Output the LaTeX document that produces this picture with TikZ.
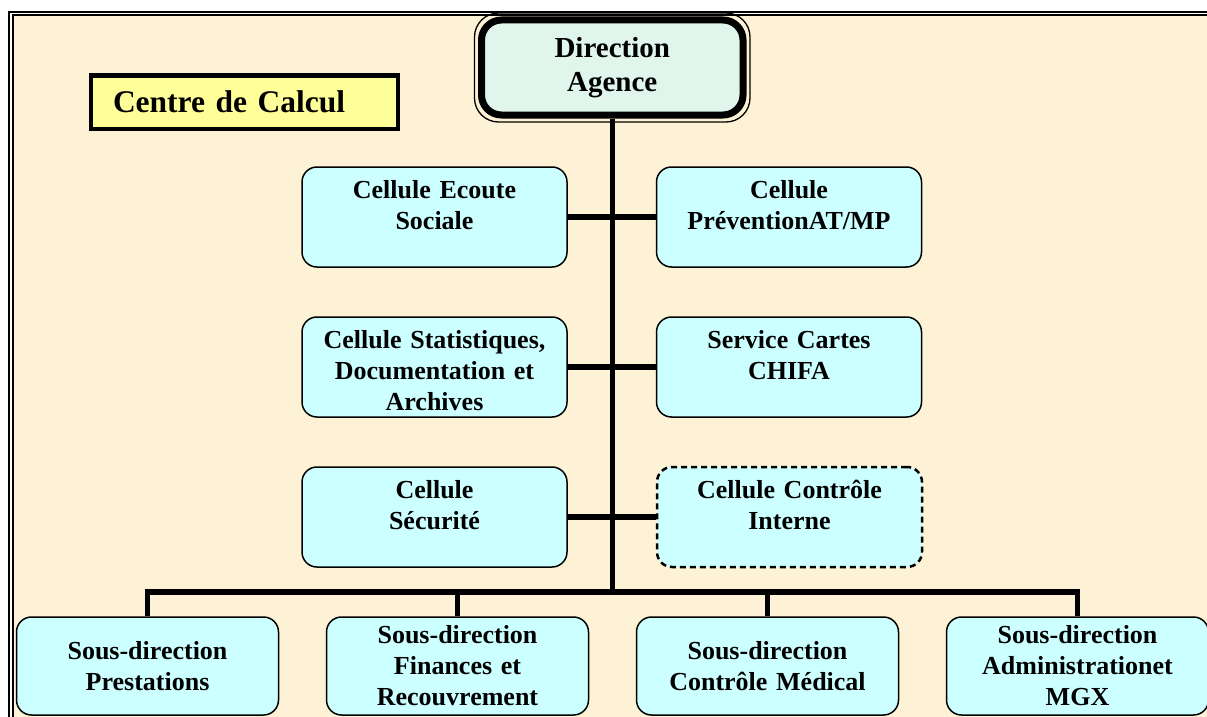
\documentclass[tikz,border=0pt]{standalone}
\usepackage{fontspec}
\setmainfont{Liberation Serif}
\usetikzlibrary{positioning}

\definecolor{cream}{RGB}{253,241,214}
\definecolor{cellcyan}{RGB}{204,255,255}
\definecolor{mint}{RGB}{224,245,235}
\definecolor{calcyellow}{RGB}{255,255,153}

\begin{document}
\begin{tikzpicture}[x = 1pt, y = -1pt,
    box/.style = { draw, fill = cellcyan, line width = 1.5pt, rounded corners = 15pt,
      align = center, inner xsep = 5pt, inner ysep = 0pt,
      font = \fontsize{26}{31}\selectfont\bfseries },
    cell/.style = { box, text width = 255pt, text height = 31pt, text depth = 69pt },
    sub/.style = { box, text width = 252pt, minimum height = 98pt },
    link/.style = { line width = 5.5pt }]
  \useasboundingbox (0,0) rectangle (1207,717);
  \fill[white] (0,0) rectangle (1207,717);
  \fill[cream] (11,13.5) rectangle (1222,726);
  \draw[line width = 2pt, double = white, double distance = 1.5pt] (11,13.5) rectangle (1222,726);

  \node[draw, fill = calcyellow, line width = 4pt, minimum width = 307pt, minimum height = 53pt,
    text width = 263pt, align = left, font = \fontsize{31.5}{36}\selectfont\bfseries]
    (calc) at (244.5,102) {Centre de Calcul};

  \node[draw, fill = mint, line width = 7pt, rounded corners = 20pt, minimum width = 261.5pt,
    minimum height = 95pt, text width = 240pt, align = center,
    font = \fontsize{29}{34}\selectfont\bfseries] (dir) at (612.25,67.5) { Direction \\ Agence };
  \draw[line width = 1.3pt, rounded corners = 24pt]
    ([shift = {(-3.5,-3.5)}] dir.north west) rectangle ([shift = {(3.5,3.5)}] dir.south east);

  \node[cell] (ecoute) at (434.5,217) { Cellule Ecoute \\ Sociale };
  \node[cell, right = 88pt of ecoute] (prev) { Cellule \\ PréventionAT/MP };
  \node[cell, below = 48.5pt of ecoute] (stat) { Cellule Statistiques, \\ Documentation et \\ Archives };
  \node[cell, right = 88pt of stat] (cartes) { Service Cartes \\ CHIFA };
  \node[cell, below = 48.5pt of stat] (secu) { Cellule \\ Sécurité };
  \node[cell, right = 88pt of secu, line width = 2.5pt, dash pattern = on 6pt off 4pt] (ctrl)
    { Cellule Contrôle \\ Interne };

  \node[sub] (sd1) at (147.5,666) { Sous-direction \\ Prestations };
  \node[sub, right = 46.5pt of sd1] (sd2) { Sous-direction \\ Finances et \\ Recouvrement };
  \node[sub, right = 46.5pt of sd2] (sd3) { Sous-direction \\ Contrôle Médical };
  \node[sub, right = 46.5pt of sd3] (sd4) { Sous-direction \\ Administrationet \\ MGX };

  \coordinate (bus) at (612.25,592);
  \draw[link] (dir) -- (bus);
  \draw[link] (ecoute) -- (prev);
  \draw[link] (stat) -- (cartes);
  \draw[link] (secu) -- (ctrl);
  \draw[link] (sd1) |- (bus) -| (sd4);
  \draw[link] (sd2) -- (sd2 |- bus);
  \draw[link] (sd3) -- (sd3 |- bus);
\end{tikzpicture}
\end{document}
